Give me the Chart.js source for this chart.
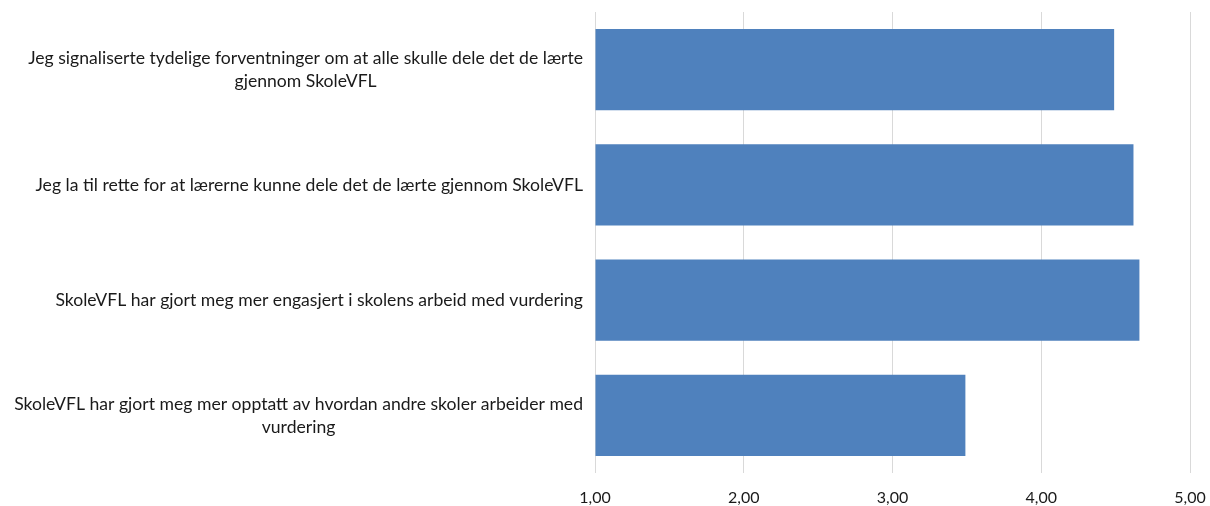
<!DOCTYPE html>
<html>
<head>
<meta charset="utf-8">
<script src="https://cdn.jsdelivr.net/npm/chart.js@4.4.1/dist/chart.umd.min.js"></script>
<style>
  html, body { margin: 0; padding: 0; background: #ffffff; }
  #wrap { width: 1210px; height: 506px; position: relative; }
</style>
</head>
<body>
<div id="wrap"><canvas id="c"></canvas></div>
<script>
const categories = [
  ["Jeg signaliserte tydelige forventninger om at alle skulle dele det de lærte", "gjennom SkoleVFL"],
  ["Jeg la til rette for at lærerne kunne dele det de lærte gjennom SkoleVFL"],
  ["SkoleVFL har gjort meg mer engasjert i skolens arbeid med vurdering"],
  ["SkoleVFL har gjort meg mer opptatt av hvordan andre skoler arbeider med", "vurdering"]
];
const values = [4.49, 4.62, 4.66, 3.49];
const xTicks = [1, 2, 3, 4, 5];

const FONT = "Lato, 'Open Sans', sans-serif";
const TEXT_COLOR = '#1a1a1a';

const categoryLabelPlugin = {
  id: 'categoryLabels',
  afterDraw(chart) {
    const ctx = chart.ctx;
    const yScale = chart.scales.y;
    const rightEdge = 583;
    const lineH = 23;
    ctx.save();
    ctx.font = "17.6px " + FONT;
    ctx.fillStyle = TEXT_COLOR;
    ctx.textAlign = 'center';
    ctx.textBaseline = 'middle';
    categories.forEach((lines, i) => {
      const yc = yScale.getPixelForValue(i);
      const bw = Math.max(...lines.map(l => ctx.measureText(l).width));
      const cx = rightEdge - bw / 2;
      const y0 = yc - (lines.length - 1) * lineH / 2;
      lines.forEach((l, j) => ctx.fillText(l, cx, y0 + j * lineH));
    });
    ctx.restore();
  }
};

new Chart(document.getElementById('c'), {
  type: 'bar',
  data: {
    labels: categories.map(c => c.join(' ')),
    datasets: [{
      data: values,
      base: 1,
      backgroundColor: '#4f81bd',
      borderWidth: 0,
      categoryPercentage: 1,
      barPercentage: 0.703
    }]
  },
  options: {
    indexAxis: 'y',
    responsive: true,
    maintainAspectRatio: false,
    devicePixelRatio: 1,
    animation: false,
    layout: { padding: { top: 12, right: 0, bottom: 0, left: 0 } },
    plugins: { legend: { display: false }, tooltip: { enabled: false } },
    scales: {
      x: {
        min: 1,
        max: 5,
        afterBuildTicks: (s) => { s.ticks = xTicks.map(v => ({ value: v })); },
        afterFit: (s) => { s.height = 33; s.paddingLeft = 0; s.paddingRight = 20; },
        grid: { color: '#d9d9d9', lineWidth: 1, drawTicks: false },
        border: { display: false },
        ticks: {
          padding: 15,
          color: TEXT_COLOR,
          font: { family: FONT, size: 16 },
          callback: (v) => Number(v).toFixed(2).replace('.', ',')
        }
      },
      y: {
        afterFit: (s) => { s.width = 595; },
        grid: { display: false },
        border: { display: false },
        ticks: { display: false }
      }
    }
  },
  plugins: [categoryLabelPlugin]
});
</script>
</body>
</html>
